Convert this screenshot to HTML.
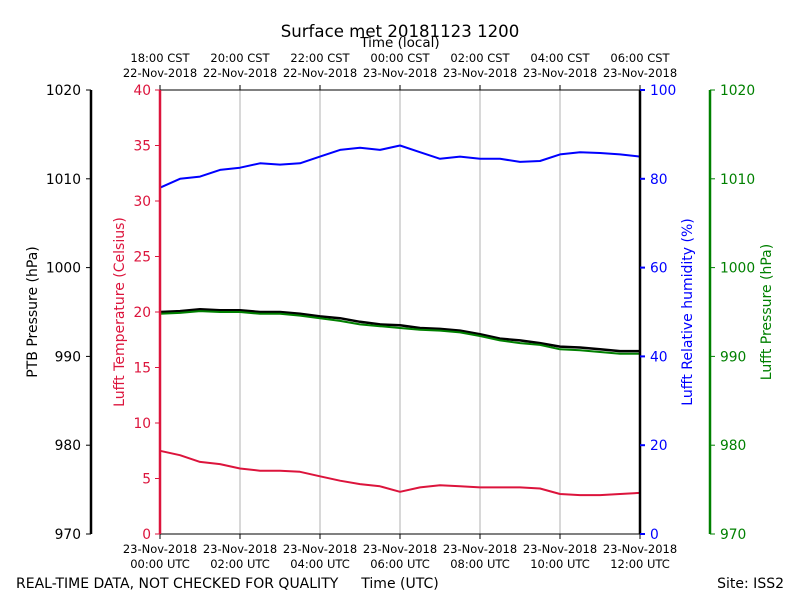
<!DOCTYPE html>
<html><head><meta charset="utf-8"><style>
body{margin:0;background:#fff;}
svg{font-family:"DejaVu Sans","Liberation Sans",sans-serif;}
</style></head><body>
<svg id="chart" width="800" height="600" xmlns="http://www.w3.org/2000/svg">
<text x="400" y="37" font-size="16.6" text-anchor="middle">Surface met 20181123 1200</text>
<text x="400" y="47" font-size="13.5" text-anchor="middle">Time (local)</text>
<g id="grid"></g><g id="series"></g><g id="axes"></g>
<text x="16" y="588" font-size="14">REAL-TIME DATA, NOT CHECKED FOR QUALITY</text>
<text x="400" y="588" font-size="14" text-anchor="middle">Time (UTC)</text>
<text x="784" y="588" font-size="14" text-anchor="end">Site: ISS2</text>
<text transform="translate(37,312) rotate(-90)" font-size="14" text-anchor="middle">PTB Pressure (hPa)</text>
<text transform="translate(124,312) rotate(-90)" font-size="14" fill="#dc143c" text-anchor="middle">Lufft Temperature (Celsius)</text>
<text transform="translate(692,312) rotate(-90)" font-size="14" fill="#0000ff" text-anchor="middle">Lufft Relative humidity (%)</text>
<text transform="translate(771,312) rotate(-90)" font-size="14" fill="#008000" text-anchor="middle">Lufft Pressure (hPa)</text>
</svg>
<script>
const hours=[0,0.5,1,1.5,2,2.5,3,3.5,4,4.5,5,5.5,6,6.5,7,7.5,8,8.5,9,9.5,10,10.5,11,11.5,12];
const humidity=[78,80,80.5,82,82.5,83.5,83.2,83.5,85,86.5,87,86.5,87.5,86,84.5,85,84.5,84.5,83.8,84,85.5,86,85.8,85.5,85];
const temperature=[7.5,7.1,6.5,6.3,5.9,5.7,5.7,5.6,5.2,4.8,4.5,4.3,3.8,4.2,4.4,4.3,4.2,4.2,4.2,4.1,3.6,3.5,3.5,3.6,3.7];
const ptbPressure=[995.0,995.1,995.3,995.2,995.2,995.0,995.0,994.8,994.5,994.3,993.9,993.6,993.5,993.2,993.1,992.9,992.5,992.0,991.8,991.5,991.1,991.0,990.8,990.6,990.6];
const lufftPressure=[994.8,994.9,995.1,995.0,995.0,994.8,994.8,994.6,994.3,994.0,993.6,993.4,993.2,993.0,992.9,992.7,992.3,991.8,991.5,991.3,990.8,990.7,990.5,990.3,990.3];
const utcTicks=["23-Nov-2018|00:00 UTC","23-Nov-2018|02:00 UTC","23-Nov-2018|04:00 UTC","23-Nov-2018|06:00 UTC","23-Nov-2018|08:00 UTC","23-Nov-2018|10:00 UTC","23-Nov-2018|12:00 UTC"];
const localTicks=["18:00 CST|22-Nov-2018","20:00 CST|22-Nov-2018","22:00 CST|22-Nov-2018","00:00 CST|23-Nov-2018","02:00 CST|23-Nov-2018","04:00 CST|23-Nov-2018","06:00 CST|23-Nov-2018"];
const tempTicks=[0,5,10,15,20,25,30,35,40];
const humTicks=[0,20,40,60,80,100];
const presTicks=[970,980,990,1000,1010,1020];

const L=160,R=640,T=90,B=534;
const xs=h=>L+(R-L)*h/12;
const yT=v=>B-(B-T)*v/40;
const yH=v=>B-(B-T)*v/100;
const yP=v=>B-(B-T)*(v-970)/50;
const NS="http://www.w3.org/2000/svg";
function mk(par,tag,attrs){const e=document.createElementNS(NS,tag);for(const k in attrs)e.setAttribute(k,attrs[k]);document.getElementById(par).appendChild(e);return e;}
function txt(par,x,y,s,col,anchor,size){const e=mk(par,'text',{x:x,y:y,fill:col,'text-anchor':anchor,'font-size':size});e.textContent=s;return e;}

utcTicks.forEach((t,i)=>{const x=xs(i*2);
 if(i>0&&i<6){const g=mk('grid','line',{x1:x,x2:x,y1:T,y2:B,stroke:'#b0b0b0','stroke-width':1});
 
 }
 const p=t.split('|');
 const a=txt('axes',x,553,p[0],'#000','middle',11.5);
 
 
 const b=txt('axes',x,568,p[1],'#000','middle',11.5);
 
 
 mk('axes','line',{x1:x,x2:x,y1:B,y2:B+5,stroke:'#000'});
 mk('axes','line',{x1:x,x2:x,y1:T,y2:T-5,stroke:'#000'});
 const q=localTicks[i].split('|');
 const c=txt('axes',x,62,q[0],'#000','middle',11.5);
 
 
 const d=txt('axes',x,77,q[1],'#000','middle',11.5);
 
 
});
function line(vals,fy,col,w,name){const pts=hours.map((h,i)=>xs(h).toFixed(1)+','+fy(vals[i]).toFixed(1)).join(' ');
 const e=mk('series','polyline',{points:pts,fill:'none',stroke:col,'stroke-width':w,'stroke-linejoin':'round'});
 
 }
line(humidity,yH,'#0000ff',2,'humidity-line');
line(temperature,yT,'#dc143c',2,'temperature-line');
line(ptbPressure,yP,'#000',2.5,'ptb-pressure-line');
line(lufftPressure,yP,'#008000',2,'lufft-pressure-line');
mk('axes','line',{x1:L,x2:R,y1:B,y2:B,stroke:'#000','stroke-width':1});
mk('axes','line',{x1:L,x2:R,y1:T,y2:T,stroke:'#000','stroke-width':1});
mk('axes','line',{x1:L,x2:L,y1:T,y2:B,stroke:'#dc143c','stroke-width':2.5});
mk('axes','line',{x1:R,x2:R,y1:T,y2:B,stroke:'#000','stroke-width':2.5});
mk('axes','line',{x1:91,x2:91,y1:T,y2:B,stroke:'#000','stroke-width':2.5});
mk('axes','line',{x1:710,x2:710,y1:T,y2:B,stroke:'#008000','stroke-width':2.5});
tempTicks.forEach(v=>{const y=yT(v);mk('axes','line',{x1:L-5,x2:L,y1:y,y2:y,stroke:'#dc143c'});
 const e=txt('axes',L-9,y+5,v,'#dc143c','end',13.8);
 
 });
humTicks.forEach(v=>{const y=yH(v);mk('axes','line',{x1:R,x2:R+5,y1:y,y2:y,stroke:'#0000ff','stroke-width':2});
 const e=txt('axes',R+10,y+5,v,'#0000ff','start',13.8);
 
 });
presTicks.forEach(v=>{const y=yP(v);mk('axes','line',{x1:86,x2:91,y1:y,y2:y,stroke:'#000'});
 const e=txt('axes',81,y+5,v,'#000','end',13.8);
 
 
 mk('axes','line',{x1:710,x2:715,y1:y,y2:y,stroke:'#008000'});
 const f=txt('axes',720,y+5,v,'#008000','start',13.8);
 
 });
</script>
</body></html>
